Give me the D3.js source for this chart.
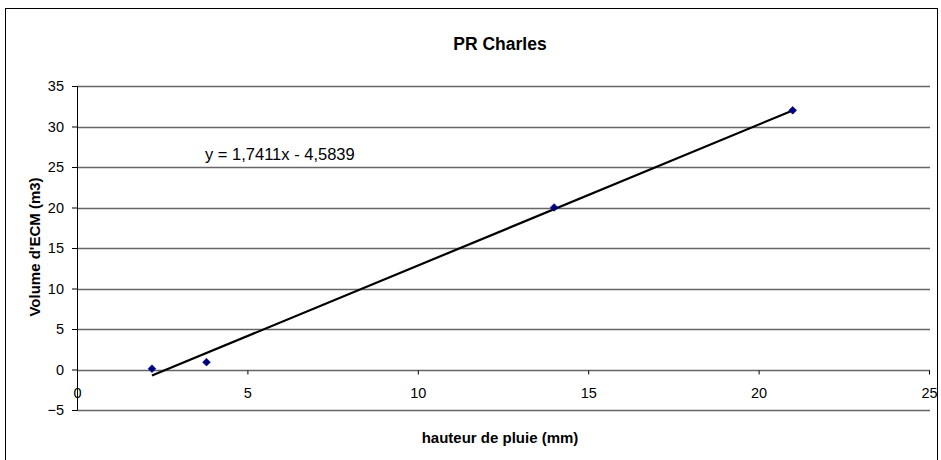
<!DOCTYPE html>
<html>
<head>
<meta charset="utf-8">
<script src="https://cdn.jsdelivr.net/npm/d3@7"></script>
<style>
  html, body { margin: 0; padding: 0; background: #fff; }
  svg { display: block; }
  text { font-family: "Liberation Sans", Arial, sans-serif; fill: #000; }
</style>
</head>
<body>
<svg id="chart" width="941" height="460"></svg>
<script>
// ---- data ----
const xValues = [2.2, 3.8, 14, 21];
const yValues = [0.1, 0.9, 20, 32];
const trendSlope = [1.7411];
const trendIntercept = [-4.5839];
const xTicks = [0, 5, 10, 15, 20, 25];
const yTicks = [-5, 0, 5, 10, 15, 20, 25, 30, 35];
const titleText = "PR Charles";
const xAxisTitle = "hauteur de pluie (mm)";
const yAxisTitle = "Volume d'ECM (m3)";
const equationText = "y = 1,7411x - 4,5839";

const svg = d3.select("#chart");

// chart area border
svg.append("rect")
  .attr("x", 5.5).attr("y", 8.5)
  .attr("width", 932).attr("height", 460)
  .attr("fill", "none").attr("stroke", "#000").attr("stroke-width", 1);

const x = d3.scaleLinear().domain([0, 25]).range([77, 929]);
const y = d3.scaleLinear().domain([-5, 35]).range([410, 86]);

// gridlines
svg.append("g").selectAll("line").data(yTicks).join("line")
  .attr("x1", x(0)).attr("x2", 930)
  .attr("y1", d => Math.round(y(d)) + 0.5).attr("y2", d => Math.round(y(d)) + 0.5)
  .attr("stroke", "#666").attr("stroke-width", 1.3);

// y axis
const yAxis = svg.append("g").attr("transform", `translate(${x(0)},0)`)
  .call(d3.axisLeft(y).tickValues(yTicks).tickSize(5).tickPadding(8).tickFormat(d3.format("d")));
yAxis.select(".domain").attr("stroke", "#000").attr("d", `M0.5,${y(-5)}V${y(35)}`);
yAxis.selectAll(".tick line").attr("stroke", "#000").attr("x1", 0.5);
yAxis.selectAll(".tick text")
  .style("font-family", "Liberation Sans, Arial, sans-serif")
  .style("font-size", "14.5px").attr("fill", "#000");

// x axis crossing at y = 0
const xAxis = svg.append("g").attr("transform", `translate(0,${Math.round(y(0)) + 0.5})`)
  .call(d3.axisBottom(x).tickValues(xTicks).tickSize(4).tickPadding(0).tickFormat(d3.format("d")));
xAxis.select(".domain").remove();
xAxis.selectAll(".tick line").attr("stroke", "#000");
xAxis.selectAll(".tick text")
  .attr("y", 27).attr("dy", 0)
  .style("font-family", "Liberation Sans, Arial, sans-serif")
  .style("font-size", "14.5px").attr("fill", "#000");

// trendline
const tx0 = d3.min(xValues), tx1 = d3.max(xValues);
const trend = [tx0, tx1].map(v => [v, trendSlope[0] * v + trendIntercept[0]]);
svg.append("path")
  .datum(trend)
  .attr("d", d3.line().x(d => x(d[0])).y(d => y(d[1])))
  .attr("fill", "none").attr("stroke", "#000").attr("stroke-width", 2.2);

// points (diamonds)
svg.append("g").selectAll("path").data(xValues.map((v, i) => [v, yValues[i]])).join("path")
  .attr("d", d3.symbol().type(d3.symbolSquare).size(30))
  .attr("transform", d => `translate(${x(d[0])},${y(d[1])}) rotate(45)`)
  .attr("fill", "#000080").attr("stroke", "#000080").attr("stroke-width", 0.6);

// title
svg.append("text").attr("x", 500).attr("y", 50)
  .attr("text-anchor", "middle").style("font-size", "17.5px").style("font-weight", "bold")
  .text(titleText);

// axis titles
svg.append("text").attr("x", 500).attr("y", 443)
  .attr("text-anchor", "middle").style("font-size", "15px").style("font-weight", "bold")
  .text(xAxisTitle);
svg.append("text").attr("transform", `translate(40,247) rotate(-90)`)
  .attr("text-anchor", "middle").style("font-size", "15px").style("font-weight", "bold")
  .text(yAxisTitle);

// equation
svg.append("text").attr("x", 205).attr("y", 160)
  .style("font-size", "16.5px")
  .text(equationText);
</script>
</body>
</html>
